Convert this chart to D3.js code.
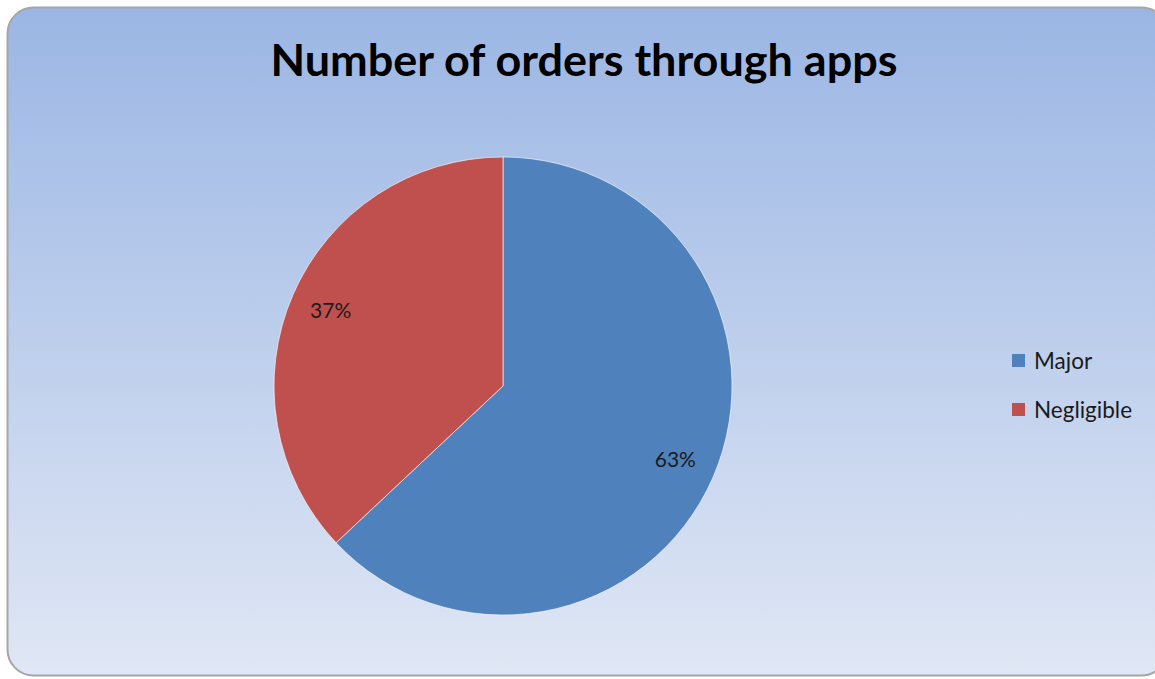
<!DOCTYPE html>
<html>
<head>
<meta charset="utf-8">
<script src="https://cdn.jsdelivr.net/npm/d3@7"></script>
<style>
  body { margin: 0; background: #fff; }
  svg { display: block; }
</style>
</head>
<body>
<script>
// Dados
const categories = ["Major", "Negligible"];
const values = [63, 37];
const colors = ["#4f81bd", "#c0504d"];
const title = "Number of orders through apps";

const W = 1155, H = 679;
const svg = d3.select("body").append("svg")
  .attr("width", W)
  .attr("height", H);

// fundo em degrade
const defs = svg.append("defs");
const grad = defs.append("linearGradient")
  .attr("id", "bg")
  .attr("x1", 0).attr("y1", 0).attr("x2", 0).attr("y2", 1);
grad.append("stop").attr("offset", "0%").attr("stop-color", "#9bb6e4");
grad.append("stop").attr("offset", "100%").attr("stop-color", "#e0e7f5");

svg.append("rect")
  .attr("x", 7.5).attr("y", 7.5)
  .attr("width", 1160).attr("height", 668)
  .attr("rx", 26).attr("ry", 26)
  .attr("fill", "url(#bg)")
  .attr("stroke", "#a6a6a6")
  .attr("stroke-width", 2);

// titulo
svg.append("text")
  .attr("x", 584).attr("y", 76)
  .attr("text-anchor", "middle")
  .attr("font-family", "Lato, 'Open Sans', sans-serif")
  .attr("font-weight", "bold")
  .attr("font-size", 43)
  .attr("textLength", 627)
  .attr("lengthAdjust", "spacingAndGlyphs")
  .attr("fill", "#000")
  .text(title);

// pizza
const cx = 503, cy = 386, r = 229;
const pie = d3.pie().sort(null).value(d => d)(values);
const arc = d3.arc().innerRadius(0).outerRadius(r);
const labelArc = d3.arc().innerRadius(r * 0.82).outerRadius(r * 0.82);

const g = svg.append("g").attr("transform", "translate(" + cx + "," + cy + ")");

g.selectAll("path")
  .data(pie)
  .enter().append("path")
  .attr("d", arc)
  .attr("fill", (d, i) => colors[i])
  .attr("stroke", "#ffffff")
  .attr("stroke-opacity", 0.6)
  .attr("stroke-width", 1);

const total = d3.sum(values);
g.selectAll(".lbl")
  .data(pie)
  .enter().append("text")
  .attr("class", "lbl")
  .attr("transform", d => "translate(" + labelArc.centroid(d) + ")")
  .attr("text-anchor", "middle")
  .attr("dy", "0.3em")
  .attr("font-family", "Lato, 'Open Sans', sans-serif")
  .attr("font-size", 21)
  .attr("fill", "#1a1a1a")
  .text(d => Math.round(d.data / total * 100) + "%");

// legenda
const legend = svg.append("g").attr("transform", "translate(1012,354)");
const item = legend.selectAll("g")
  .data(categories)
  .enter().append("g")
  .attr("transform", (d, i) => "translate(0," + i * 49 + ")");

item.append("rect")
  .attr("width", 13).attr("height", 13)
  .attr("fill", (d, i) => colors[i]);

item.append("text")
  .attr("x", 22).attr("y", 7)
  .attr("dy", "0.35em")
  .attr("font-family", "Lato, 'Open Sans', sans-serif")
  .attr("font-size", 22.5)
  .attr("fill", "#1a1a1a")
  .text(d => d);
</script>
</body>
</html>
